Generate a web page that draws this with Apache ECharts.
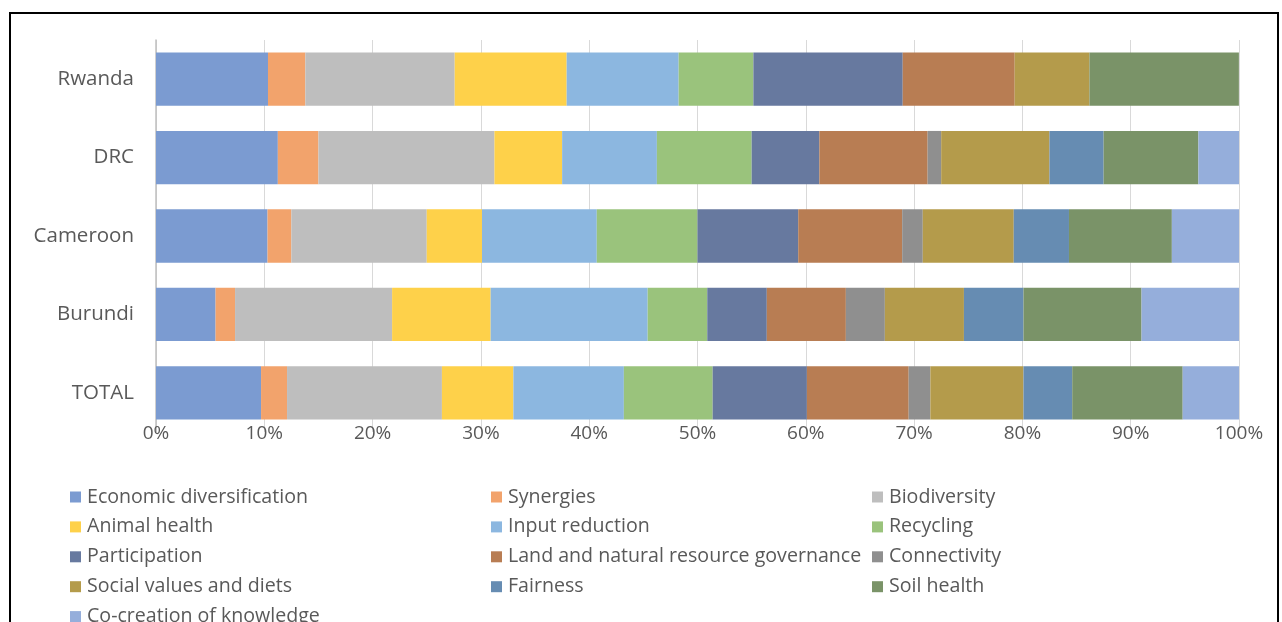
<!DOCTYPE html>
<html>
<head>
<meta charset="utf-8">
<script src="https://cdn.jsdelivr.net/npm/echarts@6/dist/echarts.min.js"></script>
<style>
  html, body { margin: 0; padding: 0; background: #ffffff; }
  #chart { width: 1282px; height: 622px; }
</style>
</head>
<body>
<div id="chart"></div>
<script>
// Countries, bottom to top on the category axis
const countries = ['TOTAL', 'Burundi', 'Cameroon', 'DRC', 'Rwanda'];

// Share of each principle (%) per country, in the same order as `countries`
const economicDiversification = [9.7, 5.5, 10.3, 11.25, 10.34];
const synergies              = [2.4, 1.8, 2.2, 3.75, 3.45];
const biodiversity           = [14.3, 14.5, 12.5, 16.25, 13.79];
const animalHealth           = [6.6, 9.1, 5.1, 6.25, 10.34];
const inputReduction         = [10.2, 14.5, 10.6, 8.75, 10.34];
const recycling              = [8.2, 5.5, 9.3, 8.75, 6.9];
const participation          = [8.7, 5.5, 9.3, 6.25, 13.79];
const landGovernance         = [9.4, 7.3, 9.6, 10.0, 10.34];
const connectivity           = [2.0, 3.6, 1.9, 1.25, 0];
const socialValues           = [8.6, 7.3, 8.4, 10.0, 6.9];
const fairness               = [4.5, 5.5, 5.1, 5.0, 0];
const soilHealth             = [10.2, 10.9, 9.5, 8.75, 13.8];
const coCreation             = [5.2, 9.0, 6.2, 3.75, 0];

// x-axis tick values (percent)
const xTicks = { min: 0, max: 100, step: 10 };

const seriesDefs = [
  ['Economic diversification', economicDiversification, '#7b9bd1'],
  ['Synergies', synergies, '#f2a36c'],
  ['Biodiversity', biodiversity, '#bebebe'],
  ['Animal health', animalHealth, '#fed14a'],
  ['Input reduction', inputReduction, '#8cb7e0'],
  ['Recycling', recycling, '#9ac37c'],
  ['Participation', participation, '#67799f'],
  ['Land and natural resource governance', landGovernance, '#b87d53'],
  ['Connectivity', connectivity, '#8f8f8f'],
  ['Social values and diets', socialValues, '#b49b4b'],
  ['Fairness', fairness, '#668cb2'],
  ['Soil health', soilHealth, '#7a9368'],
  ['Co-creation of knowledge', coCreation, '#95aedb']
];

const FONT = '"Open Sans", "Liberation Sans", sans-serif';
const TEXT = '#595959';

const series = seriesDefs.map(([name, values, color]) => ({
  name: name,
  type: 'bar',
  stack: 'share',
  data: values,
  barCategoryGap: '32%',
  itemStyle: { color: color },
  emphasis: { disabled: true }
}));

// Legend laid out in three columns, read row by row
const names = seriesDefs.map(d => d[0]);
const columnX = [65, 486, 867];
const legends = columnX.map((x, c) => ({
  orient: 'vertical',
  left: x,
  top: 482,
  height: 200,
  itemWidth: 11,
  itemHeight: 11,
  itemGap: 9.9,
  icon: 'rect',
  selectedMode: false,
  data: names.filter((_, i) => i % 3 === c),
  textStyle: { fontFamily: FONT, fontSize: 19.6, color: TEXT, lineHeight: 20, padding: [0, 0, 0, 1] }
}));

const chart = echarts.init(document.getElementById('chart'), null, { renderer: 'canvas' });
chart.setOption({
  backgroundColor: '#ffffff',
  animation: false,
  textStyle: { fontFamily: FONT },
  graphic: [{
    type: 'rect',
    shape: { x: 10, y: 13, width: 1268, height: 640 },
    style: { fill: 'none', stroke: '#000000', lineWidth: 2 },
    silent: true,
    z: 100
  }],
  legend: legends,
  grid: { left: 156, right: 43, top: 40, bottom: 190, containLabel: false },
  xAxis: {
    type: 'value',
    min: xTicks.min,
    max: xTicks.max,
    interval: xTicks.step,
    axisLine: { show: false },
    axisTick: { show: false },
    splitLine: { show: true, lineStyle: { color: '#d9d9d9', width: 1 } },
    axisLabel: {
      formatter: '{value}%',
      fontFamily: FONT,
      fontSize: 19,
      color: TEXT,
      margin: -8
    }
  },
  yAxis: {
    type: 'category',
    data: countries,
    axisLine: { show: true, lineStyle: { color: '#bfbfbf', width: 1.5 } },
    axisTick: { show: false },
    axisLabel: { fontFamily: FONT, fontSize: 20.5, color: TEXT, margin: 22 }
  },
  series: series
});
</script>
</body>
</html>
